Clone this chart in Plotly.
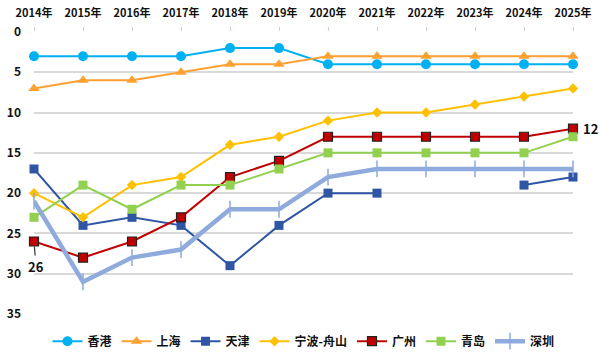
import plotly.graph_objects as go

years = [2014, 2015, 2016, 2017, 2018, 2019, 2020, 2021, 2022, 2023, 2024, 2025]
year_labels = [f"{y}年" for y in years]

hongkong = [3, 3, 3, 3, 2, 2, 4, 4, 4, 4, 4, 4]
shanghai = [7, 6, 6, 5, 4, 4, 3, 3, 3, 3, 3, 3]
tianjin = [17, 24, 23, 24, 29, 24, 20, 20, None, None, 19, 18]
ningbo = [20, 23, 19, 18, 14, 13, 11, 10, 10, 9, 8, 7]
guangzhou = [26, 28, 26, 23, 18, 16, 13, 13, 13, 13, 13, 12]
qingdao = [23, 19, 22, 19, 19, 17, 15, 15, 15, 15, 15, 13]
shenzhen = [21, 31, 28, 27, 22, 22, 18, 17, 17, 17, 17, 17]

y_ticks = [0, 5, 10, 15, 20, 25, 30, 35]

FONT = "Noto Sans CJK SC"

fig = go.Figure()

def add(name, vals, color, symbol, msize, lw=2, mline=None, mlinecolor=None):
    fig.add_trace(go.Scatter(
        x=years, y=vals, name=name, mode="lines+markers",
        line=dict(color=color, width=lw),
        marker=dict(symbol=symbol, size=msize, color=color,
                    line=dict(width=mline or 0, color=mlinecolor or color)),
        connectgaps=False, cliponaxis=False,
    ))

add("香港", hongkong, "#00B0F0", "circle", 10)
add("上海", shanghai, "#FFA033", "triangle-up", 10)
add("天津", tianjin, "#2F55A4", "square", 9)
add("宁波-舟山", ningbo, "#FFC000", "diamond", 8)
add("广州", guangzhou, "#C00000", "square", 9, mline=1.2, mlinecolor="#222222")
add("青岛", qingdao, "#92D050", "square", 9)
fig.add_trace(go.Scatter(
    x=years, y=shenzhen, name="深圳", mode="lines+markers",
    line=dict(color="#8FAADC", width=4.5),
    marker=dict(symbol="line-ns", size=12, color="#8FAADC",
                line=dict(width=1.5, color="#8FAADC")),
    cliponaxis=False,
))

fig.add_annotation(x=years[-1], y=guangzhou[-1], text="<b>12</b>", showarrow=False,
                   xanchor="left", xshift=8, font=dict(size=13, family=FONT, color="#111"))
fig.add_annotation(x=years[0], y=guangzhou[0], text="<b>26</b>", showarrow=True,
                   arrowhead=0, arrowwidth=1.2, arrowcolor="#333", ax=2, ay=25,
                   standoff=5, font=dict(size=13, family=FONT, color="#111"),
                   yanchor="middle")

fig.update_layout(
    width=600, height=355,
    margin=dict(l=34, r=27, t=32, b=41, autoexpand=False),
    paper_bgcolor="white", plot_bgcolor="white",
    font=dict(family=FONT, size=12, color="#111"),
    showlegend=True,
    legend=dict(orientation="h", x=0.5, xanchor="center", y=-0.045, yanchor="top",
                font=dict(size=12, family=FONT, weight="bold"), itemwidth=30,
                tracegroupgap=0),
    xaxis=dict(side="top", range=[2014, 2025], tickmode="array", tickvals=years,
               ticktext=[f"<b>{t}</b>" for t in year_labels],
               showgrid=False, zeroline=False, showline=False, automargin=False,
               ticks="outside", ticklen=4, tickcolor="#C8D0E0", ticklabelstandoff=6,
               tickfont=dict(size=11, family=FONT, color="#111")),
    yaxis=dict(range=[35, 0], tickmode="array", tickvals=y_ticks,
               ticktext=[f"<b>{v}</b>" for v in y_ticks],
               showgrid=True, gridcolor="#D9D9D9", gridwidth=1.5, zeroline=False,
               showline=False, ticks="", ticklabelstandoff=12, automargin=False,
               tickfont=dict(size=12, family=FONT, color="#111")),
)

fig.write_html("out.html", config={"displayModeBar": False},
               post_script="document.body.style.margin='0';document.body.style.overflow='hidden';")
